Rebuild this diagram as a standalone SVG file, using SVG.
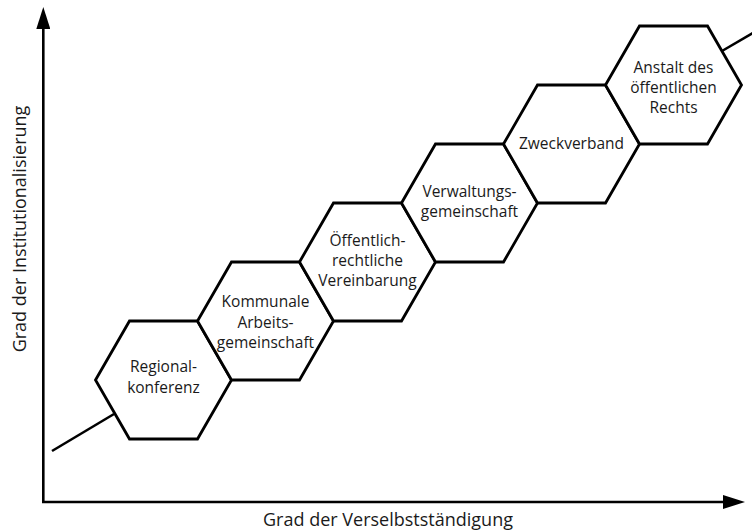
<svg xmlns="http://www.w3.org/2000/svg" xmlns:xlink="http://www.w3.org/1999/xlink" width="752" height="532" viewBox="0 0 752 532">
<style>
.hex{fill:#fff;stroke:#000;stroke-width:2.8;stroke-linejoin:miter}
.ax{fill:none;stroke:#000;stroke-width:2.6}
.ln{fill:none;stroke:#000;stroke-width:2.6}
text{font-family:"Open Sans","Liberation Sans",sans-serif;font-size:15.5px;fill:#1a1a1a;text-anchor:middle}
.lab{font-size:18px}
</style>
<defs>
<polygon id="hx" class="hex" points="-68,0 -34,-59 34,-59 68,0 34,59 -34,59"/>
<marker id="ah" viewBox="0 0 22 14" refX="0" refY="7" markerWidth="22" markerHeight="14" markerUnits="userSpaceOnUse" orient="auto">
<path d="M0,0 L22,7 L0,14 Z" fill="#000"/>
</marker>
</defs>
<rect width="752" height="532" fill="#fff"/>
<g id="axes">
<path class="ax" d="M43.3,503 V29" marker-end="url(#ah)"/>
<path class="ax" d="M42,502 H723" marker-end="url(#ah)"/>
<text class="lab" x="388" y="526">Grad der Verselbstständigung</text>
<text class="lab" transform="translate(26,229) rotate(-90)">Grad der Institutionalisierung</text>
</g>
<g id="connectors">
<line class="ln" x1="52" y1="451" x2="114" y2="414"/>
<line class="ln" x1="722" y1="51" x2="753" y2="33"/>
</g>
<g id="n1"><use xlink:href="#hx" x="163.5" y="380"/><text x="163.5" y="372">Regional-</text><text x="163.5" y="393">konferenz</text></g>
<g id="n2"><use xlink:href="#hx" x="265.5" y="321"/><text x="265.5" y="307">Kommunale</text><text x="265.5" y="328">Arbeits-</text><text x="265.5" y="348">gemeinschaft</text></g>
<g id="n3"><use xlink:href="#hx" x="367.5" y="262"/><text x="367.5" y="246">Öffentlich-</text><text x="367.5" y="266">rechtliche</text><text x="367.5" y="286">Vereinbarung</text></g>
<g id="n4"><use xlink:href="#hx" x="469.5" y="203"/><text x="469.5" y="197">Verwaltungs-</text><text x="469.5" y="217">gemeinschaft</text></g>
<g id="n5"><use xlink:href="#hx" x="571.5" y="144"/><text x="571.5" y="149">Zweckverband</text></g>
<g id="n6"><use xlink:href="#hx" x="673.5" y="85"/><text x="673.5" y="73">Anstalt des</text><text x="673.5" y="93">öffentlichen</text><text x="673.5" y="113">Rechts</text></g>
</svg>
